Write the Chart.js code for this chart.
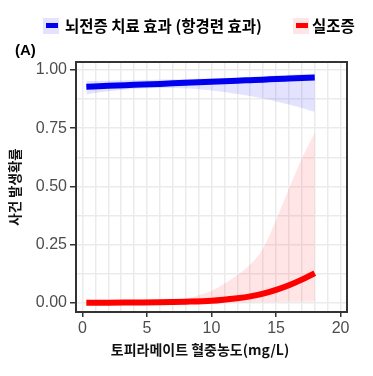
<!DOCTYPE html>
<html><head><meta charset="utf-8">
<script src="https://cdn.jsdelivr.net/npm/chart.js@4/dist/chart.umd.min.js"></script>
<style>html,body{margin:0;padding:0;background:#fff}canvas{display:block}</style>
</head><body>
<canvas id="c" width="373" height="376"></canvas>
<script>
// ---- data ----
const conc      = [0.3, 2, 4, 6, 8, 10, 12, 13, 14, 15, 16, 17, 18];
const efficacy  = [0.928, 0.932, 0.936, 0.940, 0.945, 0.949, 0.954, 0.956, 0.958, 0.961, 0.963, 0.965, 0.967];
const effLow    = [0.895, 0.908, 0.918, 0.922, 0.920, 0.912, 0.897, 0.888, 0.877, 0.865, 0.852, 0.837, 0.820];
const effHigh   = [0.952, 0.954, 0.956, 0.958, 0.961, 0.964, 0.968, 0.970, 0.973, 0.976, 0.979, 0.982, 0.985];
const ataxia    = [0.001, 0.001, 0.002, 0.003, 0.005, 0.009, 0.020, 0.028, 0.040, 0.056, 0.076, 0.100, 0.128];
const ataxLow   = [0.000, 0.000, 0.000, 0.000, 0.001, 0.001, 0.002, 0.003, 0.004, 0.004, 0.005, 0.005, 0.006];
const ataxHigh  = [0.003, 0.005, 0.008, 0.012, 0.020, 0.052, 0.120, 0.165, 0.235, 0.355, 0.490, 0.620, 0.730];
const xGridTicks = [0,1,2,3,4,5,6,7,8,9,10,11,12,13,14,15,16,17,18,19,20];
const xLabelTicks = [0, 5, 10, 15, 20];
const yGridTicks = [0, 0.125, 0.25, 0.375, 0.5, 0.625, 0.75, 0.875, 1.0];
const yLabelTicks = [0, 0.25, 0.5, 0.75, 1.0];
const seriesNames = ['뇌전증 치료 효과 (항경련 효과)', '실조증'];
const xTitle = '토피라메이트 혈중농도(mg/L)';
const yTitle = '사건 발생확률';
const panelTag = '(A)';

const BLUE = '#0000ee', RED = '#ff0000';
const BLUE_FILL = 'rgba(0,0,255,0.11)', RED_FILL = 'rgba(255,0,0,0.1)';
const pts = arr => arr.map((v, i) => ({x: conc[i], y: v}));
const KR = '"Noto Sans CJK KR", "Noto Sans", sans-serif';

const overlay = {
  id: 'overlay',
  afterDraw(chart) {
    const ctx = chart.ctx, a = chart.chartArea;
    ctx.save();
    // panel border
    ctx.strokeStyle = '#333333'; ctx.lineWidth = 2;
    ctx.strokeRect(a.left, a.top, a.right - a.left, a.bottom - a.top);
    // legend
    ctx.textBaseline = 'middle'; ctx.textAlign = 'left';
    ctx.font = 'bold 15.5px ' + KR; ctx.fillStyle = '#000';
    const items = [
      {bx: 43, fill: BLUE_FILL, col: BLUE, tx: 65, label: seriesNames[0]},
      {bx: 293, fill: RED_FILL, col: RED, tx: 312, label: seriesNames[1]}
    ];
    items.forEach(it => {
      ctx.fillStyle = it.fill; ctx.fillRect(it.bx, 18, 16, 16);
      ctx.fillStyle = it.col; ctx.fillRect(it.bx + 3, 23, 12, 5);
      ctx.fillStyle = '#000'; ctx.fillText(it.label, it.tx, 26);
    });
    // panel tag
    ctx.font = 'bold 15px "Liberation Sans", Arial, sans-serif';
    ctx.fillText(panelTag, 15, 51);
    // axis titles
    ctx.font = 'bold 14px ' + KR; ctx.textAlign = 'center';
    ctx.fillStyle = '#111';
    ctx.fillText(xTitle, 200, 350);
    ctx.translate(15, 187); ctx.rotate(-Math.PI / 2);
    ctx.font = 'bold 13.5px ' + KR;
    ctx.fillText(yTitle, 0, 0);
    ctx.restore();
  }
};

new Chart(document.getElementById('c'), {
  type: 'line',
  data: {
    datasets: [
      {label: 'effLow', data: pts(effLow), borderWidth: 0, pointRadius: 0, fill: false, tension: 0.4, order: 5},
      {label: 'effHigh', data: pts(effHigh), borderWidth: 0, pointRadius: 0, fill: '-1', backgroundColor: BLUE_FILL, tension: 0.4, order: 4},
      {label: 'ataxLow', data: pts(ataxLow), borderWidth: 0, pointRadius: 0, fill: false, tension: 0.4, order: 5},
      {label: 'ataxHigh', data: pts(ataxHigh), borderWidth: 0, pointRadius: 0, fill: '-1', backgroundColor: RED_FILL, cubicInterpolationMode: 'monotone', order: 4},
      {label: seriesNames[0], data: pts(efficacy), borderColor: BLUE, borderWidth: 6, pointRadius: 0, fill: false, cubicInterpolationMode: 'monotone', borderCapStyle: 'butt', order: 1},
      {label: seriesNames[1], data: pts(ataxia), borderColor: RED, borderWidth: 6, pointRadius: 0, fill: false, cubicInterpolationMode: 'monotone', borderCapStyle: 'butt', order: 1}
    ]
  },
  options: {
    responsive: false, animation: false, devicePixelRatio: 1,
    layout: {padding: {top: 62, right: 26, left: 0, bottom: 0}},
    plugins: {legend: {display: false}, tooltip: {enabled: false}},
    scales: {
      x: {
        type: 'linear', min: -0.5, max: 20.5,
        afterBuildTicks: s => { s.ticks = xGridTicks.map(v => ({value: v})); },
        afterFit: s => { s.height = 64; },
        border: {display: false},
        grid: {color: '#ebebeb', lineWidth: 1.5, tickLength: 5,
               tickColor: c => xLabelTicks.includes(c.tick.value) ? '#333333' : 'rgba(0,0,0,0)', tickWidth: 1.5},
        ticks: {autoSkip: false, maxRotation: 0, padding: 2, color: '#4d4d4d',
                font: {family: '"Liberation Sans", Arial, sans-serif', size: 16},
                callback: v => xLabelTicks.includes(v) ? String(v) : ''}
      },
      y: {
        type: 'linear', min: -0.039, max: 1.034,
        afterBuildTicks: s => { s.ticks = yGridTicks.map(v => ({value: v})); },
        afterFit: s => { s.width = 76; },
        border: {display: false},
        grid: {color: '#ebebeb', lineWidth: 1.5, tickLength: 6,
               tickColor: c => yLabelTicks.includes(c.tick.value) ? '#333333' : 'rgba(0,0,0,0)', tickWidth: 1.5},
        ticks: {autoSkip: false, padding: 3, color: '#4d4d4d',
                font: {family: '"Liberation Sans", Arial, sans-serif', size: 16},
                callback: v => yLabelTicks.includes(v) ? v.toFixed(2) : ''}
      }
    }
  },
  plugins: [overlay]
});
</script>
</body></html>
